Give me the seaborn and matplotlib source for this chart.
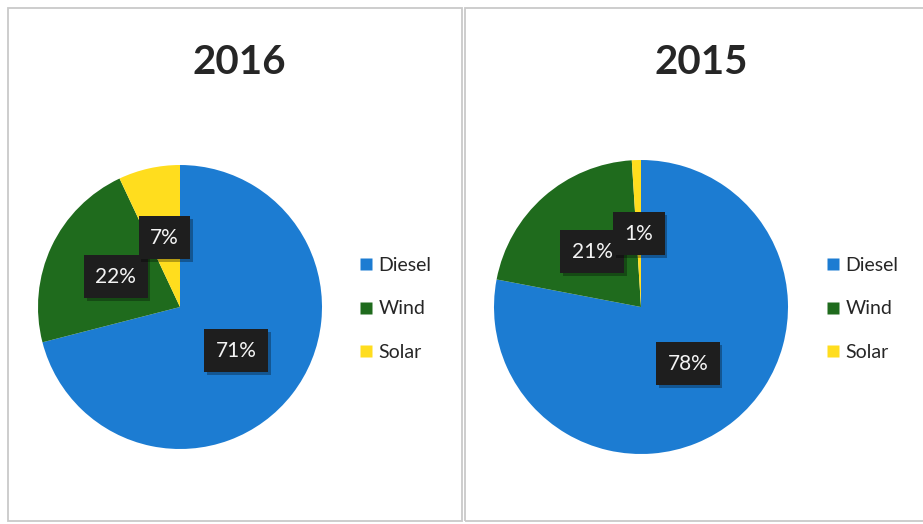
import matplotlib
matplotlib.use("Agg")
import matplotlib.pyplot as plt
import matplotlib.patheffects as pe
from matplotlib.patches import Rectangle
from matplotlib.lines import Line2D
import seaborn as sns

# Energy mix by source, percent of total generation
sources = ["Diesel", "Wind", "Solar"]
years = ["2016", "2015"]
share_2016 = [71, 22, 7]
share_2015 = [78, 21, 1]

sns.set_theme(style="white")
plt.rcParams["font.family"] = ["Lato", "DejaVu Sans"]

colors = ["#1c7cd2", "#1f6b1d", "#ffdd1e"]
text_dark = "#262626"

W, H = 923, 524
fig = plt.figure(figsize=(W / 100, H / 100), dpi=100)
fig.patch.set_facecolor("white")


def fx(px):
    return px / W


def fy(py):
    return 1 - py / H


panels = [
    dict(year=years[0], values=share_2016, frame=(8, 8, 462, 521),
         center=(180, 307), r=142, title_x=239, legend_x=359),
    dict(year=years[1], values=share_2015, frame=(465, 8, 935, 521),
         center=(641, 307), r=147, title_x=701, legend_x=826),
]

for p in panels:
    x0, y0, x1, y1 = p["frame"]
    fig.patches.append(Rectangle((fx(x0), fy(y1)), fx(x1) - fx(x0), fy(y0) - fy(y1),
                                 transform=fig.transFigure, fill=False,
                                 edgecolor="#c9c9c9", linewidth=1.3))

    fig.text(fx(p["title_x"]), fy(74), p["year"], ha="center", va="baseline",
             fontsize=29, fontweight="bold", color=text_dark)

    cx, cy, r = p["center"][0], p["center"][1], p["r"]
    ax = fig.add_axes([fx(cx - r), fy(cy + r), 2 * r / W, 2 * r / H])
    wedges, _, autotexts = ax.pie(
        p["values"], colors=colors, startangle=90, counterclock=False,
        autopct=lambda v: f"{v:.0f}%", pctdistance=0.5,
        wedgeprops=dict(linewidth=0),
        textprops=dict(color="#f4f4f4", fontsize=15),
    )
    ax.set_xlim(-1, 1)
    ax.set_ylim(-1, 1)
    ax.set_aspect("equal")
    ax.axis("off")

    for t in autotexts:
        t.set_bbox(dict(boxstyle="square,pad=0.55", facecolor="#1e1e1e", edgecolor="none"))
        t.get_bbox_patch().set_path_effects(
            [pe.withSimplePatchShadow(offset=(2, -2), shadow_rgbFace="black", alpha=0.3)]
        )

    handles = [Line2D([0], [0], marker="s", linestyle="none", markersize=8.8,
                      markerfacecolor=c, markeredgecolor="none") for c in colors]
    fig.legend(handles, sources, loc="center left",
               bbox_to_anchor=(fx(p["legend_x"]), fy(309)),
               bbox_transform=fig.transFigure, frameon=False,
               fontsize=14, labelcolor=text_dark, handlelength=0.7,
               handletextpad=0.3, labelspacing=1.35, borderpad=0, borderaxespad=0)

fig.savefig("out.png", dpi=100, facecolor="white")
